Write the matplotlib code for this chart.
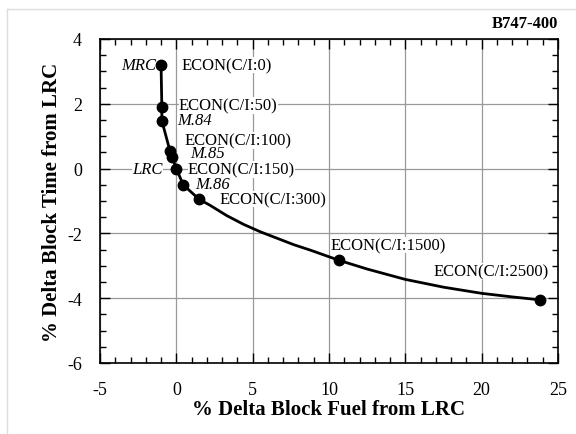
import matplotlib.pyplot as plt
import numpy as np
from matplotlib.lines import Line2D

plt.rcParams['font.family'] = 'Liberation Serif'
plt.rcParams['axes.unicode_minus'] = False

# operating points (% delta block fuel, % delta block time from LRC)
pt_fuel = [-1.0, -0.95, -0.95, -0.42, -0.28, 0.0, 0.45, 1.5, 10.65, 23.8]
pt_time = [3.2, 1.9, 1.48, 0.55, 0.35, 0.0, -0.5, -0.95, -2.83, -4.05]

# curve traced through the points
curve_fuel = [-1.0, -0.95, -0.95, -0.42, -0.28, 0.0, 0.45, 1.5, 2.2, 3.3, 4.4, 5.5,
              6.6, 7.7, 8.8, 10.65, 12.5, 15.0, 17.5, 20.0, 22.0, 23.8]
curve_time = [3.2, 1.9, 1.48, 0.55, 0.35, 0.0, -0.5, -0.95, -1.13, -1.45, -1.72, -1.95,
              -2.15, -2.35, -2.52, -2.83, -3.1, -3.42, -3.66, -3.85, -3.96, -4.05]

# labels: text, x, y, alignment, italic
lab_text = ['MRC', 'ECON(C/I:0)', 'ECON(C/I:50)', 'M.84', 'ECON(C/I:100)', 'M.85',
            'LRC', 'ECON(C/I:150)', 'M.86', 'ECON(C/I:300)', 'ECON(C/I:1500)', 'ECON(C/I:2500)']
lab_x = [-1.3, 0.33, 0.17, 0.04, 0.54, 0.91, -0.87, 0.76, 1.26, 2.8, 10.1, 16.85]
lab_y = [3.2, 3.2, 1.95, 1.5, 0.86, 0.48, 0.0, -0.02, -0.49, -0.94, -2.36, -3.18]
lab_ha = ['right', 'left', 'left', 'left', 'left', 'left', 'right', 'left', 'left', 'left', 'left', 'left']
lab_it = [True, False, False, True, False, True, True, False, True, False, False, False]

fig = plt.figure(figsize=(5.76, 4.35), dpi=100)
ax = fig.add_axes([100 / 576, 1 - 364 / 435, 458 / 576, 324 / 435])

ax.plot(curve_fuel, curve_time, color='black', lw=2, zorder=3)
ax.plot(pt_fuel, pt_time, 'o', color='black', ms=7.5, zorder=4)

for t, x, y, ha, it in zip(lab_text, lab_x, lab_y, lab_ha, lab_it):
    ax.text(x, y, t, ha=ha, va='center', fontsize=12,
            style='italic' if it else 'normal', zorder=3.5,
            bbox=dict(facecolor='white', edgecolor='none', pad=0.3))

ax.set_xlim(-5, 25)
ax.set_ylim(-6, 4)
ax.set_xticks(np.arange(-5, 26, 5))
ax.set_yticks(np.arange(-6, 5, 2))
ax.set_xticks(np.arange(-5, 26, 1), minor=True)
ax.set_yticks(np.arange(-6, 4.1, 0.5), minor=True)
ax.tick_params(which='both', direction='in', top=True, right=True, labelsize=13, pad=13)
ax.tick_params(which='major', length=7, width=1)
ax.tick_params(which='minor', length=4, width=1)
ax.grid(True, which='major', color='#999999', lw=0.9)
ax.set_axisbelow(True)
for s in ax.spines.values():
    s.set_linewidth(1.2)

ax.set_xlabel('% Delta Block Fuel from LRC', fontsize=15, fontweight='bold', labelpad=1)
ax.set_ylabel('% Delta Block Time from LRC', fontsize=15, fontweight='bold', labelpad=4)
ax.text(1.0, 1.025, 'B747-400', transform=ax.transAxes, ha='right', va='bottom',
        fontsize=12, fontweight='bold')

# light frame around the figure
fig.add_artist(Line2D([7 / 576, 7 / 576], [0, 1 - 10 / 435], color='#dddddd', lw=1))
fig.add_artist(Line2D([7 / 576, 1], [1 - 10 / 435, 1 - 10 / 435], color='#dddddd', lw=1))

fig.savefig('out.png', dpi=100)
